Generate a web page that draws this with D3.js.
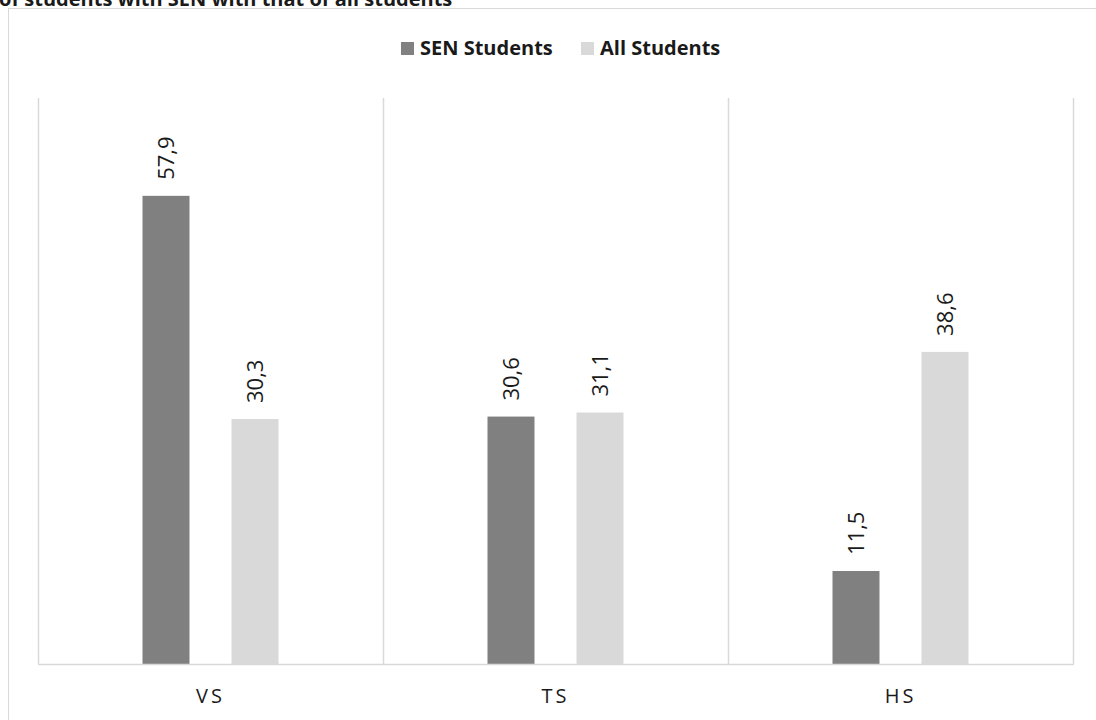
<!DOCTYPE html>
<html><head><meta charset="utf-8">
<script src="https://cdn.jsdelivr.net/npm/d3@7"></script>
<style>
html,body{margin:0;padding:0;background:#fff;overflow:hidden;}
svg{display:block;font-family:"Open Sans",sans-serif;}
</style></head>
<body>
<svg id="chart" width="1096" height="720"></svg>
<script>
const titleText = "of students with SEN with that of all students";
const categories = ["VS", "TS", "HS"];
const seriesNames = ["SEN Students", "All Students"];
const senValues = [57.9, 30.6, 11.5];
const allValues = [30.3, 31.1, 38.6];
const valueLabels = [["57,9", "30,6", "11,5"], ["30,3", "31,1", "38,6"]];
const colors = ["#808080", "#d9d9d9"];

const svg = d3.select("#chart");
const W = 1096, H = 720;
const plot = {left: 38, right: 1073, top: 98, bottom: 664};

// clipped title (cut off at top edge as in the reference)
svg.append("text").attr("x", -1).attr("y", 6)
  .attr("font-size", 20).attr("font-weight", "bold").attr("fill", "#1a1a1a")
  .text(titleText);

// chart border
svg.append("rect").attr("x", 8.5).attr("y", 8.5)
  .attr("width", W + 10).attr("height", H + 10)
  .attr("fill", "#fff").attr("stroke", "#d9d9d9").attr("stroke-width", 1);

const x0 = d3.scaleBand().domain(categories).range([plot.left, plot.right]).paddingInner(0).paddingOuter(0);
const x1 = d3.scaleBand().domain(seriesNames).range([0, x0.bandwidth()])
  .paddingInner(0.472).paddingOuter(1.174);
const y = d3.scaleLinear().domain([0, 70]).range([plot.bottom, plot.top]);

// separators
const seps = categories.map(c => x0(c)).concat([x0(categories[categories.length-1]) + x0.bandwidth()]);
svg.append("g").selectAll("line").data(seps).join("line")
  .attr("x1", d => Math.round(d) + 0.5).attr("x2", d => Math.round(d) + 0.5)
  .attr("y1", plot.top).attr("y2", plot.bottom)
  .attr("stroke", "#d9d9d9").attr("stroke-width", 1.5);

const data = [];
categories.forEach((c, i) => {
  data.push({cat: c, s: seriesNames[0], v: senValues[i], lab: valueLabels[0][i], col: colors[0]});
  data.push({cat: c, s: seriesNames[1], v: allValues[i], lab: valueLabels[1][i], col: colors[1]});
});

svg.append("g").selectAll("rect").data(data).join("rect")
  .attr("x", d => x0(d.cat) + x1(d.s))
  .attr("y", d => y(d.v))
  .attr("width", x1.bandwidth())
  .attr("height", d => y(0) - y(d.v))
  .attr("fill", d => d.col);

// baseline
svg.append("line").attr("x1", plot.left).attr("x2", plot.right + 1)
  .attr("y1", plot.bottom + 0.5).attr("y2", plot.bottom + 0.5)
  .attr("stroke", "#d9d9d9").attr("stroke-width", 1.5);

// value labels
svg.append("g").selectAll("text").data(data).join("text")
  .attr("transform", d => `translate(${x0(d.cat) + x1(d.s) + x1.bandwidth()/2},${y(d.v) - 16}) rotate(-90)`)
  .attr("dy", "0.35em")
  .attr("font-size", 22).attr("fill", "#1a1a1a")
  .text(d => d.lab);

// category labels
svg.append("g").selectAll("text").data(categories).join("text")
  .attr("x", d => x0(d) + x0.bandwidth()/2)
  .attr("y", 703)
  .attr("text-anchor", "middle")
  .attr("font-size", 20).attr("letter-spacing", "3px").attr("fill", "#1a1a1a")
  .text(d => d);

// legend
const lg = svg.append("g");
const legX = [401, 581];
seriesNames.forEach((s, i) => {
  lg.append("rect").attr("x", legX[i]).attr("y", 42).attr("width", 13).attr("height", 13).attr("fill", colors[i]);
  lg.append("text").attr("x", legX[i] + 19).attr("y", 55)
    .attr("font-size", 20).attr("font-weight", "bold").attr("fill", "#1a1a1a")
    .text(s);
});
</script>
</body></html>
